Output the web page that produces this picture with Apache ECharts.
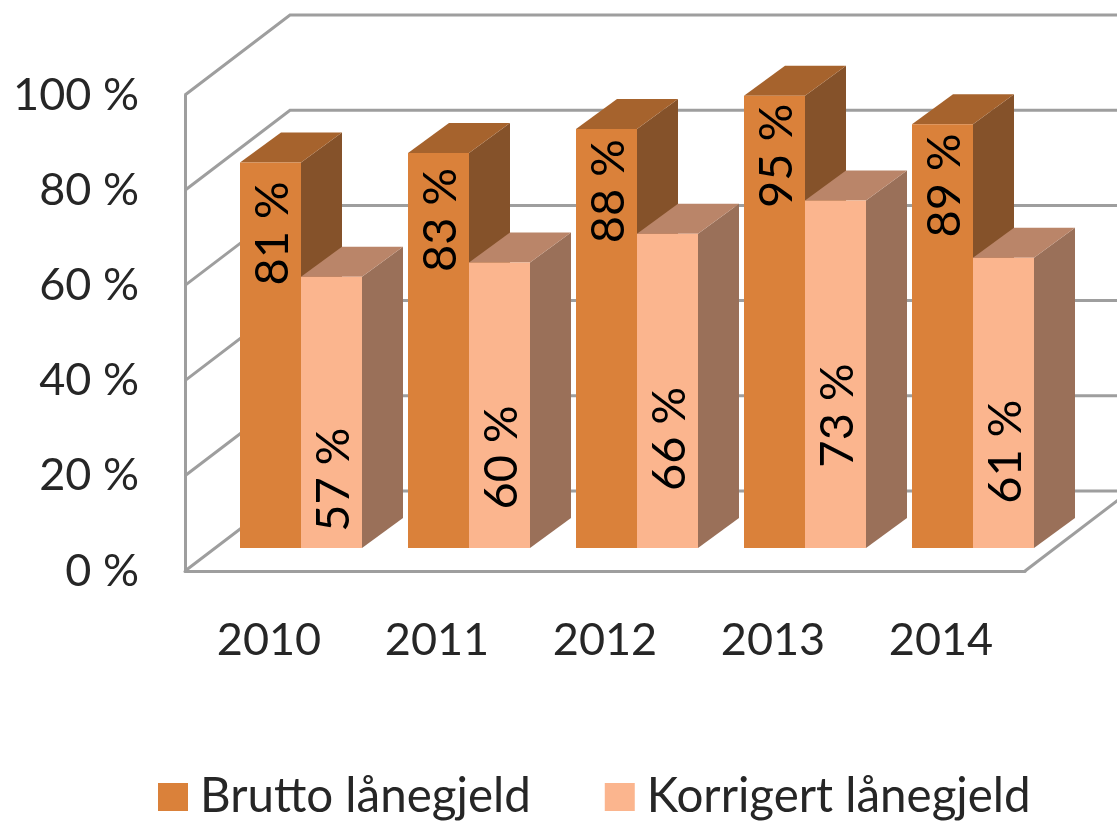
<!DOCTYPE html>
<html>
<head>
<meta charset="utf-8">
<title>Lånegjeld</title>
<script src="https://cdn.jsdelivr.net/npm/echarts@6/dist/echarts.min.js"></script>
<style>
  html, body { margin: 0; padding: 0; background: #fff; }
  #chart { width: 1117px; height: 821px; }
</style>
</head>
<body>
<div id="chart"></div>
<script>
const years = ['2010', '2011', '2012', '2013', '2014'];
const brutto = [81, 83, 88, 95, 89];
const korrigert = [57, 60, 66, 73, 61];
const wallTicks = [0, 20, 40, 60, 80, 100];

// label centre, px below the top of the bar (the labels sit unevenly in the original)
const bruttoLabelDrop = [71, 67, 62, 60, 61];
const korrigertLabelDrop = [203, 195, 205, 215, 194];

const font = 'Lato';
const lineColor = '#9e9e9e';
const barW = 61;
// bars stand a bit inside the floor
const inset = { x: 32, y: 23 };
const depth = { x: 41, y: 30 };
const wall = { x: 105, y: 80 };

function face(points, fill) {
  return { type: 'polygon', shape: { points: points }, style: { fill: fill } };
}

// one 3d bar: side, top, front, then the rotated label
function barRender(slot, colors, labelDrop) {
  return function (params, api) {
    const idx = api.value(0);
    const val = api.value(1);
    const top = api.coord([idx, val]);
    const base = api.coord([idx, 0]);
    const x0 = top[0] + inset.x + slot * barW;
    const x1 = x0 + barW;
    const y0 = top[1] - inset.y;
    const y1 = base[1] - inset.y;
    return {
      type: 'group',
      children: [
        face([[x1, y0], [x1 + depth.x, y0 - depth.y], [x1 + depth.x, y1 - depth.y], [x1, y1]], colors.side),
        face([[x0, y0], [x0 + depth.x, y0 - depth.y], [x1 + depth.x, y0 - depth.y], [x1, y0]], colors.top),
        face([[x0, y0], [x1, y0], [x1, y1], [x0, y1]], colors.front),
        {
          type: 'text',
          x: x0 + barW / 2 + 2,
          y: y0 + labelDrop[params.dataIndex],
          rotation: Math.PI / 2,
          style: {
            text: val + ' %',
            fill: '#000',
            font: '47px ' + font,
            textAlign: 'center',
            textVerticalAlign: 'middle'
          }
        }
      ]
    };
  };
}

// side wall and back wall line for one tick, floor edge on the 0 tick
function wallRender(params, api) {
  const rect = params.coordSys;
  const y = api.coord([0, api.value(1)])[1];
  const style = { stroke: lineColor, lineWidth: 3, fill: null };
  const children = [{
    type: 'polyline',
    shape: { points: [[rect.x, y], [rect.x + wall.x, y - wall.y], [rect.x + rect.width + wall.x, y - wall.y]] },
    style: style
  }];
  if (api.value(1) === 0) {
    const xr = rect.x + rect.width;
    children.push({
      type: 'line',
      shape: { x1: xr, y1: y, x2: xr + wall.x, y2: y - wall.y },
      style: style
    });
  }
  return { type: 'group', children: children };
}

const chart = echarts.init(document.getElementById('chart'), null, { renderer: 'canvas' });

chart.setOption({
  animation: false,
  backgroundColor: '#fff',
  grid: { left: 185, top: 95, width: 840, height: 476 },
  legend: {
    left: 158,
    top: 773,
    padding: 0,
    icon: 'rect',
    itemWidth: 30,
    itemHeight: 28,
    itemGap: 74,
    data: ['Brutto lånegjeld', 'Korrigert lånegjeld'],
    textStyle: { fontFamily: font, fontSize: 47.5, color: '#262626', padding: [0, 0, 0, 7] }
  },
  xAxis: {
    type: 'category',
    data: years,
    axisLine: { lineStyle: { color: lineColor, width: 3 } },
    axisTick: { show: false },
    axisLabel: { fontFamily: font, fontSize: 45, color: '#262626', margin: 47 }
  },
  yAxis: {
    type: 'value',
    min: 0,
    max: 100,
    interval: 20,
    axisLine: { show: true, lineStyle: { color: lineColor, width: 3 } },
    axisTick: { show: false },
    splitLine: { show: false },
    axisLabel: { fontFamily: font, fontSize: 45, color: '#262626', margin: 46, padding: [6, 0, 0, 0], formatter: '{value} %' }
  },
  series: [
    {
      type: 'custom',
      name: 'wall',
      renderItem: wallRender,
      clip: false,
      z: 1,
      data: wallTicks.map(t => [years[0], t])
    },
    {
      type: 'custom',
      name: 'Brutto lånegjeld',
      renderItem: barRender(-1, { front: '#da813a', top: '#a6632d', side: '#85522a' }, bruttoLabelDrop),
      itemStyle: { color: '#da813a' },
      clip: false,
      z: 2,
      data: years.map((y, i) => [y, brutto[i]])
    },
    {
      type: 'custom',
      name: 'Korrigert lånegjeld',
      renderItem: barRender(0, { front: '#fbb58e', top: '#ba8569', side: '#9a7059' }, korrigertLabelDrop),
      itemStyle: { color: '#fbb58e' },
      clip: false,
      z: 3,
      data: years.map((y, i) => [y, korrigert[i]])
    }
  ]
});
</script>
</body>
</html>
